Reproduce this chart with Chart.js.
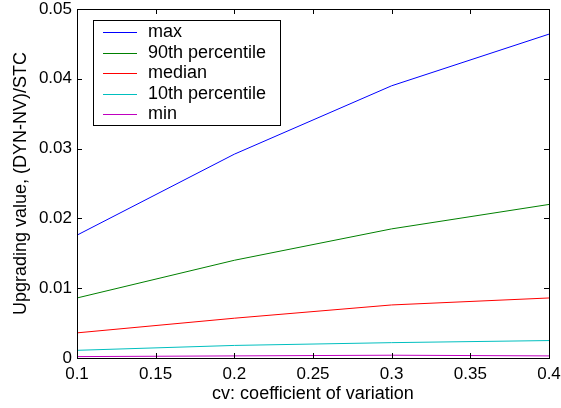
<!DOCTYPE html>
<html>
<head>
<meta charset="utf-8">
<script src="https://cdn.jsdelivr.net/npm/chart.js@4/dist/chart.umd.min.js"></script>
<style>
  html, body { margin: 0; padding: 0; background: #fff; }
  #wrap { width: 561px; height: 408px; }
</style>
</head>
<body>
<div id="wrap"><canvas id="chart_1"></canvas></div>
<script>
const cv = [0.1, 0.2, 0.3, 0.4];
const maxVals = [0.0176, 0.0292, 0.0390, 0.0464];
const p90Vals = [0.0086, 0.0140, 0.0185, 0.0220];
const medianVals = [0.0036, 0.0057, 0.0076, 0.0086];
const p10Vals = [0.0011, 0.0018, 0.0022, 0.0025];
const minVals = [0.0002, 0.0003, 0.0004, 0.0003];

const names = ["max", "90th percentile", "median", "10th percentile", "min"];
const colors = ["#0000ff", "#008000", "#ff0000", "#00bfbf", "#bf00bf"];
const series = [maxVals, p90Vals, medianVals, p10Vals, minVals];

const font = "Liberation Sans, Arial, sans-serif";

// MATLAB-style box with inward ticks, plus the legend box
const boxPlugin = {
  id: "box",
  afterDraw(chart) {
    const { ctx, chartArea: a, scales } = chart;
    ctx.save();
    ctx.strokeStyle = "#000";
    ctx.lineWidth = 1;
    ctx.strokeRect(Math.round(a.left) + 0.5, Math.round(a.top) + 0.5,
      Math.round(a.right - a.left), Math.round(a.bottom - a.top));
    const len = 5;
    ctx.beginPath();
    scales.x.ticks.forEach(t => {
      const px = Math.round(scales.x.getPixelForValue(t.value)) + 0.5;
      ctx.moveTo(px, a.bottom); ctx.lineTo(px, a.bottom - len);
      ctx.moveTo(px, a.top); ctx.lineTo(px, a.top + len);
    });
    scales.y.ticks.forEach(t => {
      const py = Math.round(scales.y.getPixelForValue(t.value)) + 0.5;
      ctx.moveTo(a.left, py); ctx.lineTo(a.left + len, py);
      ctx.moveTo(a.right, py); ctx.lineTo(a.right - len, py);
    });
    ctx.stroke();

    // legend
    const lx = 93, ly = 20, lw = 187, lh = 105, row = 20.6;
    ctx.fillStyle = "#fff";
    ctx.fillRect(lx, ly, lw, lh);
    ctx.strokeRect(lx + 0.5, ly + 0.5, lw, lh);
    ctx.font = "18px " + font;
    ctx.textBaseline = "middle";
    chart.data.datasets.forEach((ds, i) => {
      const y = Math.round(ly + 12 + i * row) + 0.5;
      ctx.strokeStyle = ds.borderColor;
      ctx.beginPath();
      ctx.moveTo(lx + 10, y); ctx.lineTo(lx + 44, y);
      ctx.stroke();
      ctx.fillStyle = "#000";
      ctx.fillText(ds.label, lx + 55, y);
    });
    ctx.restore();
  }
};

const config = {
  type: "line",
  data: {
    datasets: names.map((n, i) => ({
      label: n,
      data: cv.map((x, j) => ({ x: x, y: series[i][j] })),
      borderColor: colors[i],
      backgroundColor: colors[i],
      borderWidth: 1,
      pointRadius: 0,
      tension: 0,
      fill: false,
    })),
  },
  options: {
    responsive: true,
    maintainAspectRatio: false,
    animation: false,
    layout: { padding: { top: 9, right: 12, left: 0, bottom: 0 } },
    plugins: { legend: { display: false }, tooltip: { enabled: false } },
    scales: {
      x: {
        type: "linear",
        min: 0.1,
        max: 0.4,
        grid: { display: false, drawTicks: false },
        border: { display: false },
        ticks: {
          stepSize: 0.05,
          color: "#000",
          padding: 6,
          maxRotation: 0,
          font: { size: 17, family: font },
          callback: v => String(+v.toFixed(4)),
        },
        title: {
          display: true,
          text: "cv: coefficient of variation",
          color: "#000",
          font: { size: 18, family: font },
          padding: { top: 0, bottom: 3 },
        },
        afterFit(s) {
          s.height = 50;
          s.paddingLeft = 0;
          s.paddingRight = 0;
        },
      },
      y: {
        min: 0,
        max: 0.05,
        grid: { display: false, drawTicks: false },
        border: { display: false },
        ticks: {
          stepSize: 0.01,
          color: "#000",
          padding: 5,
          font: { size: 17, family: font },
          callback: v => String(+v.toFixed(4)),
        },
        title: {
          display: true,
          text: "Upgrading value, (DYN-NV)/STC",
          color: "#000",
          font: { size: 18, family: font },
          padding: { top: 10, bottom: 0 },
        },
        afterFit(s) {
          s.width = 77;
          s.paddingTop = 0;
          s.paddingBottom = 0;
        },
      },
    },
  },
  plugins: [boxPlugin],
};

new Chart(document.getElementById("chart_1"), config);
</script>
</body>
</html>
